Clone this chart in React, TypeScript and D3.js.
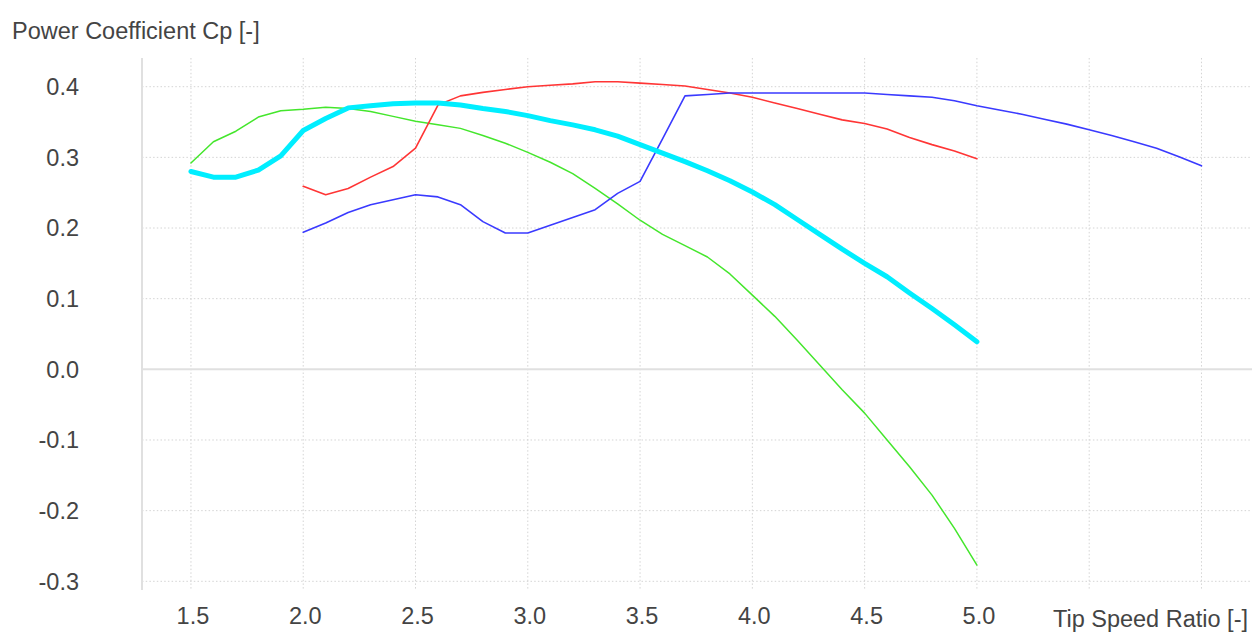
import React from 'react';
import * as d3 from 'd3';

// tip speed ratio steps
const tsrShort = [2.0, 2.1, 2.2, 2.3, 2.4, 2.5, 2.6, 2.7, 2.8, 2.9, 3.0, 3.1, 3.2, 3.3, 3.4, 3.5, 3.6, 3.7, 3.8, 3.9, 4.0, 4.1, 4.2, 4.3, 4.4, 4.5, 4.6, 4.7, 4.8, 4.9, 5.0];
const tsrLong = [1.5, 1.6, 1.7, 1.8, 1.9, ...tsrShort];
const tsrBlue = [...tsrShort, 5.1, 5.2, 5.3, 5.4, 5.5, 5.6, 5.7, 5.8, 5.9, 6.0];

const cpGreen = [0.292, 0.322, 0.337, 0.357, 0.366, 0.368, 0.371, 0.369, 0.365, 0.358, 0.351, 0.346, 0.341, 0.331, 0.32, 0.307, 0.293, 0.277, 0.256, 0.234, 0.211, 0.191, 0.175, 0.159, 0.135, 0.105, 0.075, 0.041, 0.006, -0.029, -0.062, -0.1, -0.138, -0.178, -0.225, -0.277];
const cpCyan = [0.28, 0.272, 0.272, 0.282, 0.302, 0.338, 0.355, 0.37, 0.373, 0.376, 0.377, 0.377, 0.374, 0.369, 0.365, 0.359, 0.352, 0.346, 0.339, 0.33, 0.318, 0.306, 0.294, 0.281, 0.267, 0.251, 0.233, 0.212, 0.191, 0.17, 0.15, 0.131, 0.108, 0.086, 0.063, 0.039];
const cpRed = [0.259, 0.247, 0.256, 0.272, 0.287, 0.313, 0.374, 0.387, 0.392, 0.396, 0.4, 0.402, 0.404, 0.407, 0.407, 0.405, 0.403, 0.401, 0.396, 0.391, 0.385, 0.377, 0.369, 0.361, 0.353, 0.348, 0.34, 0.328, 0.318, 0.309, 0.298];
const cpBlue = [0.194, 0.207, 0.222, 0.233, 0.24, 0.247, 0.244, 0.233, 0.209, 0.193, 0.193, 0.204, 0.215, 0.226, 0.249, 0.266, 0.326, 0.387, 0.389, 0.391, 0.391, 0.391, 0.391, 0.391, 0.391, 0.391, 0.389, 0.387, 0.385, 0.38, 0.373, 0.367, 0.361, 0.354, 0.347, 0.339, 0.331, 0.322, 0.313, 0.301, 0.288];

const xGridTicks = [1.5, 2.0, 2.5, 3.0, 3.5, 4.0, 4.5, 5.0, 5.5, 6.0];
const xTickLabels = [1.5, 2.0, 2.5, 3.0, 3.5, 4.0, 4.5, 5.0];
const yTicks = [-0.3, -0.2, -0.1, 0.0, 0.1, 0.2, 0.3, 0.4];

const series = [
  { name: 'green', x: tsrLong, y: cpGreen, color: '#44e62c', width: 1.5 },
  { name: 'red', x: tsrShort, y: cpRed, color: '#ff3535', width: 1.6 },
  { name: 'blue', x: tsrBlue, y: cpBlue, color: '#3a3aff', width: 1.6 },
  { name: 'cyan', x: tsrLong, y: cpCyan, color: '#00eeff', width: 5 },
];

const W = 1257, H = 633;
const font = "'Liberation Sans', Arial, sans-serif";
const textColor = '#444';

// plain hyphen minus, like the original
const fmt = (v: number) => (Math.abs(v) < 1e-9 ? 0 : v).toFixed(1);

export default function App() {
  const left = 142, right = 1252, top = 58, bottom = 590;
  const xScale = d3.scaleLinear().domain([1.282, 6.225]).range([left, right]);
  const yScale = d3.scaleLinear().domain([-0.3123, 0.4406]).range([bottom, top]);

  const line = d3.line<[number, number]>()
    .x(d => xScale(d[0]))
    .y(d => yScale(d[1]));

  return (
    <svg width={W} height={H} style={{ position: 'absolute', left: 0, top: 0, background: '#fff' }}>
      {/* grid */}
      <g stroke='#d4d4d4' strokeWidth={1} strokeDasharray='1.5,2.2'>
        {xGridTicks.map(t => (
          <line key={'gx' + t} x1={xScale(t)} x2={xScale(t)} y1={top} y2={bottom} />
        ))}
        {yTicks.filter(t => t !== 0).map(t => (
          <line key={'gy' + t} x1={left} x2={right} y1={yScale(t)} y2={yScale(t)} />
        ))}
      </g>
      <line x1={left} x2={right} y1={yScale(0)} y2={yScale(0)} stroke='#e0e0e0' strokeWidth={2} />
      <line x1={left} x2={left} y1={top} y2={bottom} stroke='#e0e0e0' strokeWidth={2} />

      {/* curves */}
      {series.map(s => (
        <path key={s.name}
          d={line(s.x.map((v, i) => [v, s.y[i]] as [number, number])) || ''}
          fill='none' stroke={s.color} strokeWidth={s.width}
          strokeLinejoin='round' strokeLinecap='round' />
      ))}

      {/* tick labels */}
      <g fontFamily={font} fontSize={23.5} fill={textColor}>
        {yTicks.map(t => (
          <text key={'ly' + t} x={79} y={yScale(t)} dy='0.36em' textAnchor='end'>{fmt(t)}</text>
        ))}
        {xTickLabels.map(t => (
          <text key={'lx' + t} x={xScale(t) + 2} y={624} textAnchor='middle'>{fmt(t)}</text>
        ))}
        <text x={12} y={39}>Power Coefficient Cp [-]</text>
        <text x={1248} y={627} textAnchor='end'>Tip Speed Ratio [-]</text>
      </g>
    </svg>
  );
}
